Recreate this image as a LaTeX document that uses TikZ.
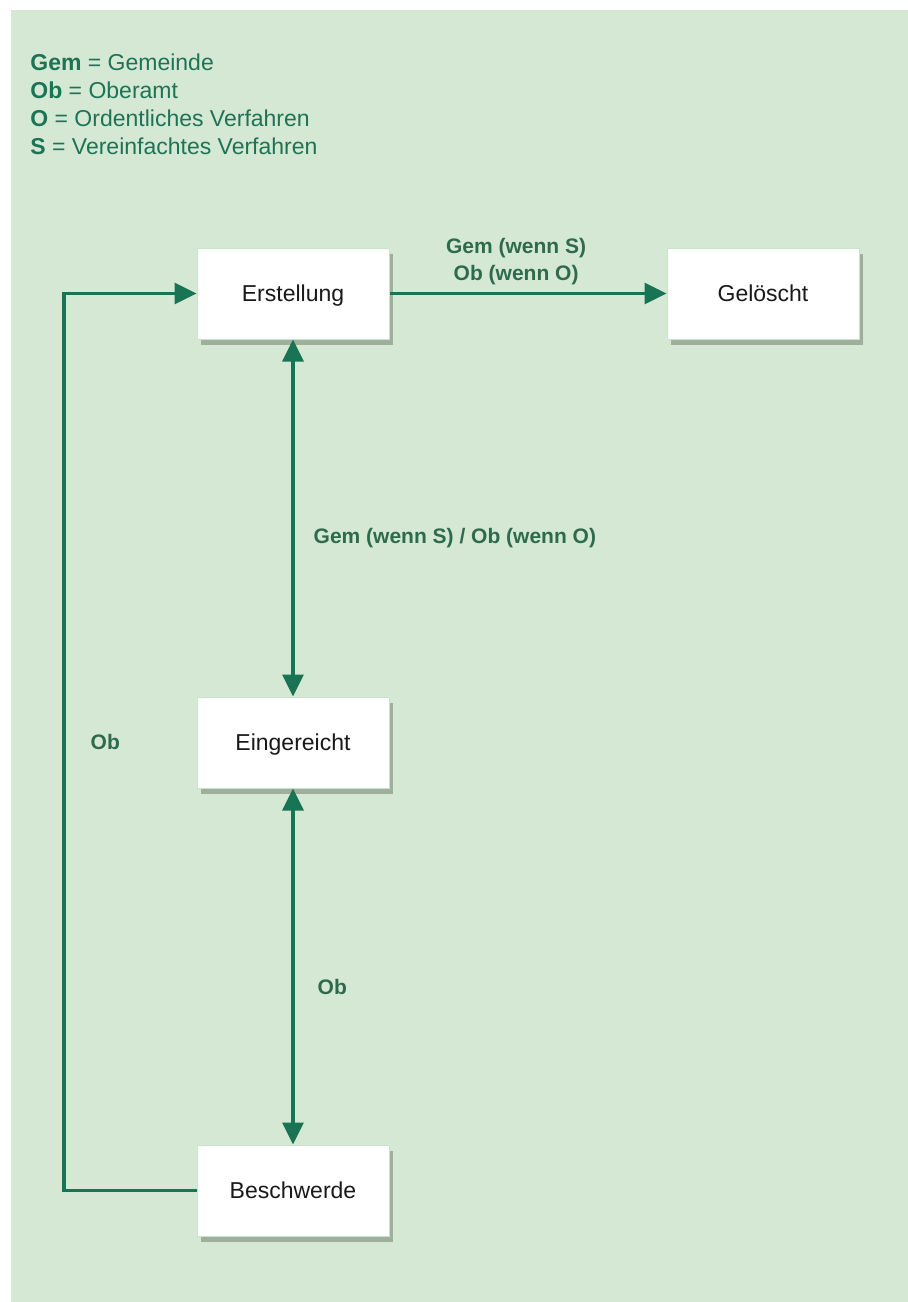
\documentclass[tikz,border=0pt]{standalone}
\usepackage{fontspec}
\setmainfont{Liberation Sans}
\usepackage{tikz}
\usetikzlibrary{arrows.meta,shadows}

\definecolor{bggreen}{HTML}{D5E8D4}
\definecolor{edgegreen}{HTML}{187454}
\definecolor{labelgreen}{HTML}{2E6B4D}
\definecolor{legendgreen}{HTML}{1D7356}
\definecolor{boxline}{HTML}{C8E4CA}
\definecolor{shadowgrey}{HTML}{9FAE9D}

\begin{document}
\begin{tikzpicture}[x=0.5pt,y=-0.5pt,
	state/.style={draw=boxline,line width=0.5pt,fill=white,minimum width=96pt,minimum height=45.5pt,inner sep=0pt,text height=8.2pt,text depth=0pt,font=\fontsize{11.5}{13.8}\selectfont,text=black!90,drop shadow={shadow xshift=1.8pt,shadow yshift=-3pt,fill=shadowgrey,opacity=1}},
	trans/.style={draw=edgegreen,line width=1.7pt,-{Triangle[length=11pt,width=10.5pt]}},
	both/.style={trans,{Triangle[length=11pt,width=10.5pt]}-{Triangle[length=11pt,width=10.5pt]}},
	lbl/.style={text=labelgreen,font=\fontsize{10.5}{13.5}\selectfont\bfseries,inner sep=0pt,align=center},
	legend/.style={text=legendgreen,font=\fontsize{11.5}{13.8}\selectfont,inner sep=0pt,anchor=base west}]
	\useasboundingbox (0,0) rectangle (908,1302);
	\fill[bggreen] (11,10) rectangle (908,1302);
	% Abkuerzungen
	\foreach \y/\k/\v in {70/Gem/Gemeinde,98/Ob/Oberamt,126/O/Ordentliches Verfahren,154/S/Vereinfachtes Verfahren} \node[legend] (leg\k) at (30,\y) {\textbf{\k} = \v};
	% Zustaende
	\node[state] (erst) at (293,293.5) {Erstellung};
	\node[state] (gel) at (763,293.5) {Gelöscht};
	\node[state] (einger) at (293,742.5) {Eingereicht};
	\node[state] (beschw) at (293,1190.5) {Beschwerde};
	\coordinate (ruecklauf) at (64,1190.5);
	% Uebergaenge
	\draw[trans] (erst) -- node[lbl,pos=.457,above=3.5pt] {Gem (wenn S)\\Ob (wenn O)} (gel);
	\draw[both] (erst) -- node[lbl,pos=.556,right=9.5pt] {Gem (wenn S) / Ob (wenn O)} (einger);
	\draw[both] (einger) -- node[lbl,pos=.557,right=11.5pt] {Ob} (beschw);
	\draw[trans] (beschw.west) -- (ruecklauf) |- node[lbl,pos=.25,right=12.5pt] {Ob} (erst.west);
\end{tikzpicture}
\end{document}
